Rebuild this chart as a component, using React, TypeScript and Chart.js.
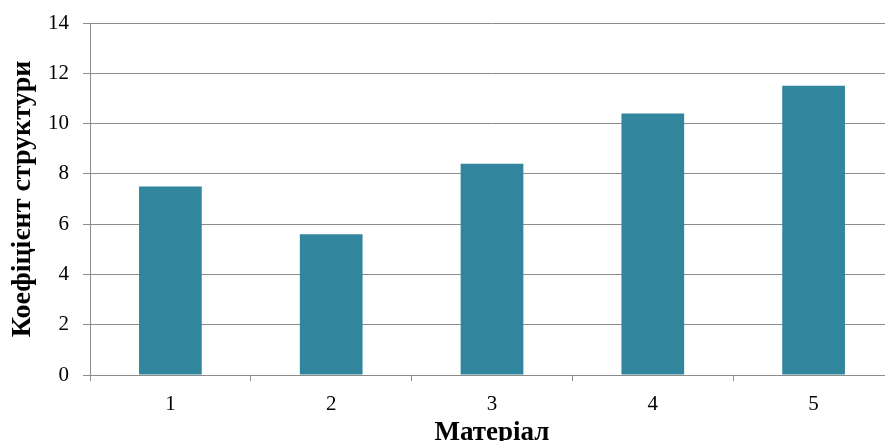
import React, { useEffect, useRef } from "react";
import { Chart, registerables } from "chart.js";

Chart.register(...registerables);

const categories: string[] = ["1", "2", "3", "4", "5"];
const coefficients: number[] = [7.5, 5.6, 8.4, 10.4, 11.5];
const yTitle = "Коефіцієнт структури";
const xTitle = "Матеріал";

const CANVAS_W = 905;
const CANVAS_H = 452;
const SERIF = '"Liberation Serif", "Times New Roman", serif';
const GRID = "#8c8c8c";

export default function App() {
  const ref = useRef<HTMLCanvasElement | null>(null);

  useEffect(() => {
    if (!ref.current) return;
    const chart = new Chart(ref.current, {
      type: "bar",
      data: {
        labels: categories,
        datasets: [
          {
            data: coefficients,
            backgroundColor: "#31859c",
            borderWidth: 0,
            categoryPercentage: 1,
            barPercentage: 0.39,
          },
        ],
      },
      options: {
        responsive: false,
        animation: false,
        devicePixelRatio: 1,
        layout: {
          autoPadding: false,
          padding: { left: 0, top: 23, right: 11, bottom: 0 },
        },
        plugins: { legend: { display: false }, tooltip: { enabled: false } },
        scales: {
          x: {
            grid: {
              offset: true,
              drawOnChartArea: false,
              drawTicks: true,
              tickLength: 6,
              color: GRID,
            },
            border: { color: GRID },
            ticks: {
              color: "#000",
              font: { family: SERIF, size: 21 },
              padding: 11,
            },
            title: {
              display: true,
              text: xTitle,
              color: "#000",
              font: { family: SERIF, size: 27, weight: "bold" },
              padding: { top: 0, bottom: 3 },
            },
            afterFit: (scale: any) => {
              scale.height = CANVAS_H - 375;
              scale.paddingLeft = 0;
              scale.paddingRight = 0;
            },
          },
          y: {
            min: 0,
            max: 14,
            ticks: {
              stepSize: 2,
              color: "#000",
              font: { family: SERIF, size: 21 },
              padding: 14,
            },
            grid: { color: GRID, tickLength: 7 },
            border: { color: GRID },
            title: {
              display: true,
              text: yTitle,
              color: "#000",
              font: { family: SERIF, size: 28, weight: "bold" },
              padding: { top: 6, bottom: 0 },
            },
            afterFit: (scale: any) => {
              scale.width = 90;
              scale.paddingTop = 0;
              scale.paddingBottom = 0;
            },
          },
        },
      },
    });
    return () => chart.destroy();
  }, []);

  return (
    <div
      style={{
        position: "fixed",
        left: 0,
        top: 0,
        width: CANVAS_W,
        height: CANVAS_H,
        background: "#fff",
      }}
    >
      <canvas ref={ref} width={CANVAS_W} height={CANVAS_H} />
    </div>
  );
}
